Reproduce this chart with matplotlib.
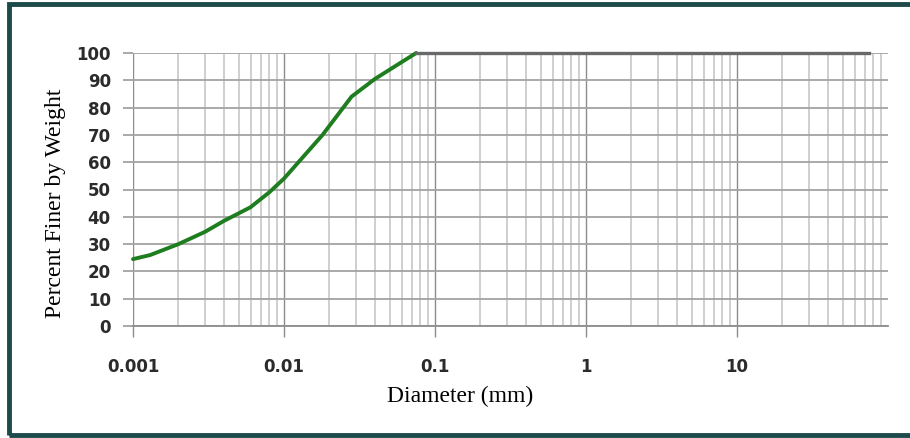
import numpy as np
import matplotlib
matplotlib.use("Agg")
import matplotlib.pyplot as plt
from matplotlib.patches import Rectangle
from matplotlib.ticker import FixedLocator, FixedFormatter, NullFormatter

# grain size distribution (hydrometer + sieve)
diameter_mm = [0.001, 0.0013, 0.002, 0.003, 0.004, 0.006, 0.008, 0.01,
               0.018, 0.028, 0.04, 0.075, 75]
percent_finer = [24.5, 26, 30, 34.5, 38.5, 43.5, 49, 54,
                 70, 84, 90.5, 100, 100]

x_major = [0.001, 0.01, 0.1, 1, 10]
x_labels = ["0.001", "0.01", "0.1", "1", "10"]
y_ticks = list(range(0, 101, 10))

fig = plt.figure(figsize=(9.10, 4.38), dpi=100)

# dark teal frame around the whole chart
fig.patches.append(Rectangle((8.5 / 910, 3.5 / 438), 1.0, 431 / 438,
                             transform=fig.transFigure, fill=False,
                             edgecolor="#1d4a4a", linewidth=3.5))

ax = fig.add_axes([133 / 910, 112 / 438, 755 / 910, 273 / 438])
ax.set_xscale("log")
ax.set_xlim(0.001, 100)
ax.set_ylim(0, 100)

# minor lines for 2..9 in every decade
minors = [m * d for d in x_major for m in range(2, 10)]
ax.xaxis.set_major_locator(FixedLocator(x_major))
ax.xaxis.set_major_formatter(FixedFormatter(x_labels))
ax.xaxis.set_minor_locator(FixedLocator(minors))
ax.xaxis.set_minor_formatter(NullFormatter())
ax.set_yticks(y_ticks)

ax.grid(True, which="minor", axis="x", color="#cfcfcf", linewidth=1.4)
ax.grid(True, which="major", axis="x", color="#8c8c8c", linewidth=1.0)
ax.grid(True, which="major", axis="y", color="#a3a3a3", linewidth=1.3)
ax.set_axisbelow(True)

for side in ["top", "right", "left"]:
    ax.spines[side].set_visible(False)
ax.spines["bottom"].set_color("#8c8c8c")
ax.spines["bottom"].set_linewidth(1.3)

ax.tick_params(axis="x", which="major", length=8, width=1.0, color="#8c8c8c",
               pad=15, labelsize=12)
ax.tick_params(axis="x", which="minor", length=0)
ax.tick_params(axis="y", length=7, width=1.3, color="#a3a3a3", pad=9,
               labelsize=12)
for lab in ax.get_xticklabels() + ax.get_yticklabels():
    lab.set_fontweight("bold")
    lab.set_color("#2b2b2b")

# green part of the curve up to where it reaches 100 %, flat tail in grey
d = np.array(diameter_mm)
p = np.array(percent_finer)
k = int(np.argmax(p >= 100))
ax.plot(d[:k + 1], p[:k + 1], color="#1e7d1e", linewidth=2.8,
        solid_capstyle="round", clip_on=False, zorder=3)
ax.plot(d[k:], p[k:], color="#686868", linewidth=2.4, clip_on=False, zorder=3)

ax.set_xlabel("Diameter (mm)", family="Liberation Serif", fontsize=17)
ax.set_ylabel("Percent Finer by Weight", family="Liberation Serif",
              fontsize=17)
# label positions as in the source (slightly off-centre)
ax.xaxis.set_label_coords((460 - 133) / 755, (326 - 396) / 273)
ax.xaxis.label.set_va("center")
ax.yaxis.set_label_coords((56 - 133) / 755, (326 - 203) / 273)
ax.yaxis.label.set_va("center")

fig.savefig("out.png", dpi=100)
